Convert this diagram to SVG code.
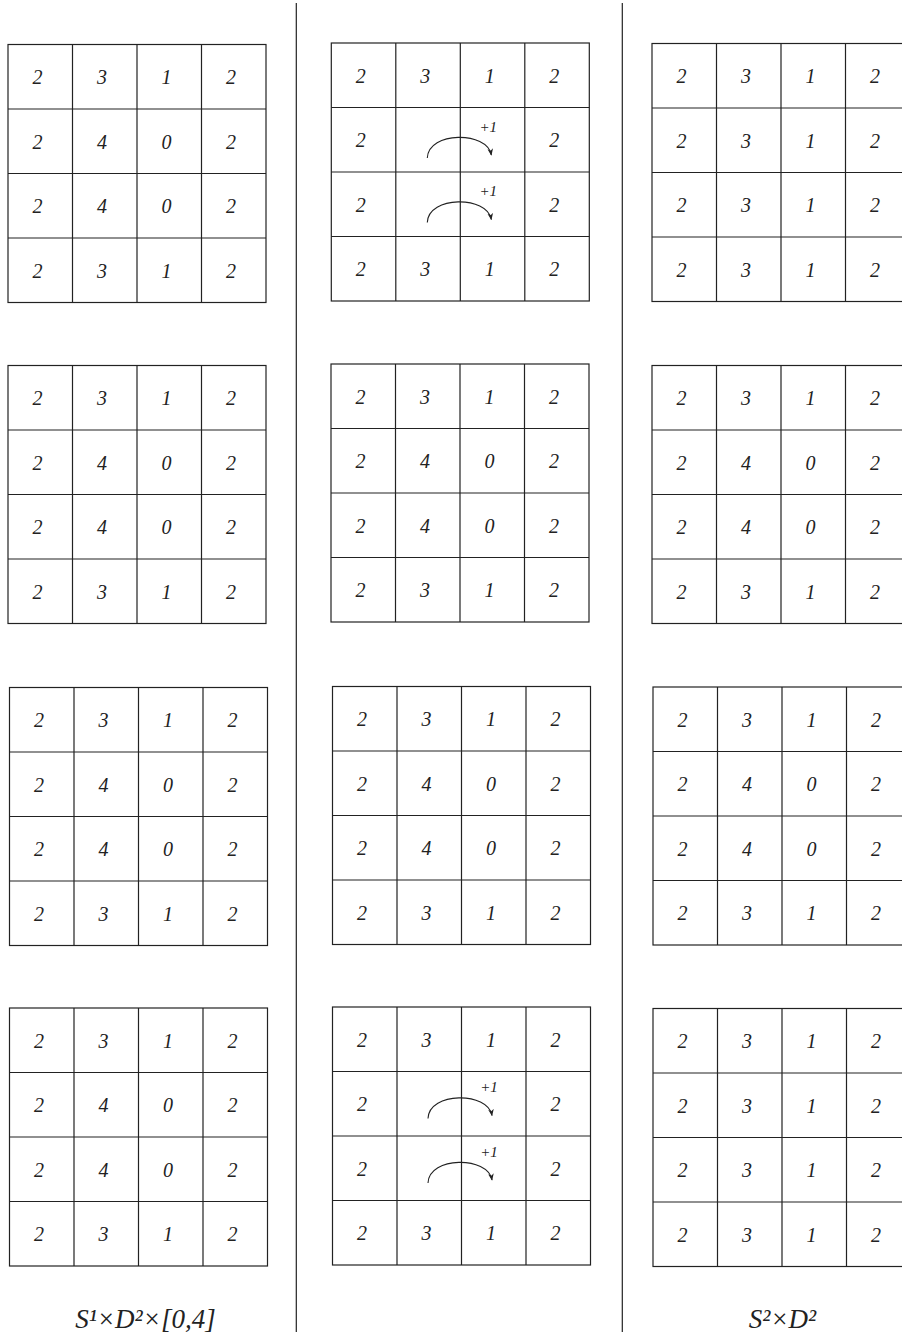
<svg xmlns="http://www.w3.org/2000/svg" width="902" height="1334" viewBox="0 0 902 1334">
<style>
.g{fill:none;stroke:#222;stroke-width:1.2}
text{font-family:"Liberation Serif","Times New Roman","DejaVu Serif",serif;font-style:italic;fill:#222;text-anchor:middle}
.n{font-size:20px}
.p{font-size:15px}
.lb{font-size:27px}
.a{fill:none;stroke:#222;stroke-width:1.1}
.sep{stroke:#222;stroke-width:1.2}
</style>
<defs>
<marker id="ah" viewBox="0 0 10 10" refX="9" refY="5" markerWidth="7" markerHeight="7" markerUnits="userSpaceOnUse" orient="auto">
<path d="M0,1 L10,5 L0,9 L3,5 z" fill="#222"/>
</marker>
</defs>

<g id="separators">
<line class="sep" x1="296.3" y1="3" x2="296.3" y2="1332"/>
<line class="sep" x1="622.3" y1="3" x2="622.3" y2="1332"/>
</g>

<g id="grid-a1" transform="translate(8,44.5)">
<rect class="g" x="0" y="0" width="258" height="258"/>
<path class="g" d="M64.5,0V258M129,0V258M193.5,0V258M0,64.5H258M0,129H258M0,193.5H258"/>
<text class="n" x="29.5" y="39.5">2</text><text class="n" x="94" y="39.5">3</text><text class="n" x="158.5" y="39.5">1</text><text class="n" x="223" y="39.5">2</text>
<text class="n" x="29.5" y="104">2</text><text class="n" x="94" y="104">4</text><text class="n" x="158.5" y="104">0</text><text class="n" x="223" y="104">2</text>
<text class="n" x="29.5" y="168.5">2</text><text class="n" x="94" y="168.5">4</text><text class="n" x="158.5" y="168.5">0</text><text class="n" x="223" y="168.5">2</text>
<text class="n" x="29.5" y="233">2</text><text class="n" x="94" y="233">3</text><text class="n" x="158.5" y="233">1</text><text class="n" x="223" y="233">2</text>
</g>
<g id="grid-a2" transform="translate(8,365.5)">
<rect class="g" x="0" y="0" width="258" height="258"/>
<path class="g" d="M64.5,0V258M129,0V258M193.5,0V258M0,64.5H258M0,129H258M0,193.5H258"/>
<text class="n" x="29.5" y="39.5">2</text><text class="n" x="94" y="39.5">3</text><text class="n" x="158.5" y="39.5">1</text><text class="n" x="223" y="39.5">2</text>
<text class="n" x="29.5" y="104">2</text><text class="n" x="94" y="104">4</text><text class="n" x="158.5" y="104">0</text><text class="n" x="223" y="104">2</text>
<text class="n" x="29.5" y="168.5">2</text><text class="n" x="94" y="168.5">4</text><text class="n" x="158.5" y="168.5">0</text><text class="n" x="223" y="168.5">2</text>
<text class="n" x="29.5" y="233">2</text><text class="n" x="94" y="233">3</text><text class="n" x="158.5" y="233">1</text><text class="n" x="223" y="233">2</text>
</g>
<g id="grid-a3" transform="translate(9.5,687.5)">
<rect class="g" x="0" y="0" width="258" height="258"/>
<path class="g" d="M64.5,0V258M129,0V258M193.5,0V258M0,64.5H258M0,129H258M0,193.5H258"/>
<text class="n" x="29.5" y="39.5">2</text><text class="n" x="94" y="39.5">3</text><text class="n" x="158.5" y="39.5">1</text><text class="n" x="223" y="39.5">2</text>
<text class="n" x="29.5" y="104">2</text><text class="n" x="94" y="104">4</text><text class="n" x="158.5" y="104">0</text><text class="n" x="223" y="104">2</text>
<text class="n" x="29.5" y="168.5">2</text><text class="n" x="94" y="168.5">4</text><text class="n" x="158.5" y="168.5">0</text><text class="n" x="223" y="168.5">2</text>
<text class="n" x="29.5" y="233">2</text><text class="n" x="94" y="233">3</text><text class="n" x="158.5" y="233">1</text><text class="n" x="223" y="233">2</text>
</g>
<g id="grid-a4" transform="translate(9.5,1008)">
<rect class="g" x="0" y="0" width="258" height="258"/>
<path class="g" d="M64.5,0V258M129,0V258M193.5,0V258M0,64.5H258M0,129H258M0,193.5H258"/>
<text class="n" x="29.5" y="39.5">2</text><text class="n" x="94" y="39.5">3</text><text class="n" x="158.5" y="39.5">1</text><text class="n" x="223" y="39.5">2</text>
<text class="n" x="29.5" y="104">2</text><text class="n" x="94" y="104">4</text><text class="n" x="158.5" y="104">0</text><text class="n" x="223" y="104">2</text>
<text class="n" x="29.5" y="168.5">2</text><text class="n" x="94" y="168.5">4</text><text class="n" x="158.5" y="168.5">0</text><text class="n" x="223" y="168.5">2</text>
<text class="n" x="29.5" y="233">2</text><text class="n" x="94" y="233">3</text><text class="n" x="158.5" y="233">1</text><text class="n" x="223" y="233">2</text>
</g>

<g id="grid-b1" transform="translate(331.3,43)">
<rect class="g" x="0" y="0" width="258" height="258"/>
<path class="g" d="M64.5,0V258M129,0V258M193.5,0V258M0,64.5H258M0,129H258M0,193.5H258"/>
<text class="n" x="29.5" y="39.5">2</text><text class="n" x="94" y="39.5">3</text><text class="n" x="158.5" y="39.5">1</text><text class="n" x="223" y="39.5">2</text>
<text class="n" x="29.5" y="104">2</text><text class="n" x="223" y="104">2</text>
<text class="n" x="29.5" y="168.5">2</text><text class="n" x="223" y="168.5">2</text>
<text class="n" x="29.5" y="233">2</text><text class="n" x="94" y="233">3</text><text class="n" x="158.5" y="233">1</text><text class="n" x="223" y="233">2</text>
</g>
<g id="grid-b2" transform="translate(331,364)">
<rect class="g" x="0" y="0" width="258" height="258"/>
<path class="g" d="M64.5,0V258M129,0V258M193.5,0V258M0,64.5H258M0,129H258M0,193.5H258"/>
<text class="n" x="29.5" y="39.5">2</text><text class="n" x="94" y="39.5">3</text><text class="n" x="158.5" y="39.5">1</text><text class="n" x="223" y="39.5">2</text>
<text class="n" x="29.5" y="104">2</text><text class="n" x="94" y="104">4</text><text class="n" x="158.5" y="104">0</text><text class="n" x="223" y="104">2</text>
<text class="n" x="29.5" y="168.5">2</text><text class="n" x="94" y="168.5">4</text><text class="n" x="158.5" y="168.5">0</text><text class="n" x="223" y="168.5">2</text>
<text class="n" x="29.5" y="233">2</text><text class="n" x="94" y="233">3</text><text class="n" x="158.5" y="233">1</text><text class="n" x="223" y="233">2</text>
</g>
<g id="grid-b3" transform="translate(332.5,686.5)">
<rect class="g" x="0" y="0" width="258" height="258"/>
<path class="g" d="M64.5,0V258M129,0V258M193.5,0V258M0,64.5H258M0,129H258M0,193.5H258"/>
<text class="n" x="29.5" y="39.5">2</text><text class="n" x="94" y="39.5">3</text><text class="n" x="158.5" y="39.5">1</text><text class="n" x="223" y="39.5">2</text>
<text class="n" x="29.5" y="104">2</text><text class="n" x="94" y="104">4</text><text class="n" x="158.5" y="104">0</text><text class="n" x="223" y="104">2</text>
<text class="n" x="29.5" y="168.5">2</text><text class="n" x="94" y="168.5">4</text><text class="n" x="158.5" y="168.5">0</text><text class="n" x="223" y="168.5">2</text>
<text class="n" x="29.5" y="233">2</text><text class="n" x="94" y="233">3</text><text class="n" x="158.5" y="233">1</text><text class="n" x="223" y="233">2</text>
</g>
<g id="grid-b4" transform="translate(332.5,1007)">
<rect class="g" x="0" y="0" width="258" height="258"/>
<path class="g" d="M64.5,0V258M129,0V258M193.5,0V258M0,64.5H258M0,129H258M0,193.5H258"/>
<text class="n" x="29.5" y="39.5">2</text><text class="n" x="94" y="39.5">3</text><text class="n" x="158.5" y="39.5">1</text><text class="n" x="223" y="39.5">2</text>
<text class="n" x="29.5" y="104">2</text><text class="n" x="223" y="104">2</text>
<text class="n" x="29.5" y="168.5">2</text><text class="n" x="223" y="168.5">2</text>
<text class="n" x="29.5" y="233">2</text><text class="n" x="94" y="233">3</text><text class="n" x="158.5" y="233">1</text><text class="n" x="223" y="233">2</text>
</g>

<g id="grid-c1" transform="translate(652,43.5)">
<rect class="g" x="0" y="0" width="258" height="258"/>
<path class="g" d="M64.5,0V258M129,0V258M193.5,0V258M0,64.5H258M0,129H258M0,193.5H258"/>
<text class="n" x="29.5" y="39.5">2</text><text class="n" x="94" y="39.5">3</text><text class="n" x="158.5" y="39.5">1</text><text class="n" x="223" y="39.5">2</text>
<text class="n" x="29.5" y="104">2</text><text class="n" x="94" y="104">3</text><text class="n" x="158.5" y="104">1</text><text class="n" x="223" y="104">2</text>
<text class="n" x="29.5" y="168.5">2</text><text class="n" x="94" y="168.5">3</text><text class="n" x="158.5" y="168.5">1</text><text class="n" x="223" y="168.5">2</text>
<text class="n" x="29.5" y="233">2</text><text class="n" x="94" y="233">3</text><text class="n" x="158.5" y="233">1</text><text class="n" x="223" y="233">2</text>
</g>
<g id="grid-c2" transform="translate(652,365.5)">
<rect class="g" x="0" y="0" width="258" height="258"/>
<path class="g" d="M64.5,0V258M129,0V258M193.5,0V258M0,64.5H258M0,129H258M0,193.5H258"/>
<text class="n" x="29.5" y="39.5">2</text><text class="n" x="94" y="39.5">3</text><text class="n" x="158.5" y="39.5">1</text><text class="n" x="223" y="39.5">2</text>
<text class="n" x="29.5" y="104">2</text><text class="n" x="94" y="104">4</text><text class="n" x="158.5" y="104">0</text><text class="n" x="223" y="104">2</text>
<text class="n" x="29.5" y="168.5">2</text><text class="n" x="94" y="168.5">4</text><text class="n" x="158.5" y="168.5">0</text><text class="n" x="223" y="168.5">2</text>
<text class="n" x="29.5" y="233">2</text><text class="n" x="94" y="233">3</text><text class="n" x="158.5" y="233">1</text><text class="n" x="223" y="233">2</text>
</g>
<g id="grid-c3" transform="translate(653,687)">
<rect class="g" x="0" y="0" width="258" height="258"/>
<path class="g" d="M64.5,0V258M129,0V258M193.5,0V258M0,64.5H258M0,129H258M0,193.5H258"/>
<text class="n" x="29.5" y="39.5">2</text><text class="n" x="94" y="39.5">3</text><text class="n" x="158.5" y="39.5">1</text><text class="n" x="223" y="39.5">2</text>
<text class="n" x="29.5" y="104">2</text><text class="n" x="94" y="104">4</text><text class="n" x="158.5" y="104">0</text><text class="n" x="223" y="104">2</text>
<text class="n" x="29.5" y="168.5">2</text><text class="n" x="94" y="168.5">4</text><text class="n" x="158.5" y="168.5">0</text><text class="n" x="223" y="168.5">2</text>
<text class="n" x="29.5" y="233">2</text><text class="n" x="94" y="233">3</text><text class="n" x="158.5" y="233">1</text><text class="n" x="223" y="233">2</text>
</g>
<g id="grid-c4" transform="translate(653,1008.5)">
<rect class="g" x="0" y="0" width="258" height="258"/>
<path class="g" d="M64.5,0V258M129,0V258M193.5,0V258M0,64.5H258M0,129H258M0,193.5H258"/>
<text class="n" x="29.5" y="39.5">2</text><text class="n" x="94" y="39.5">3</text><text class="n" x="158.5" y="39.5">1</text><text class="n" x="223" y="39.5">2</text>
<text class="n" x="29.5" y="104">2</text><text class="n" x="94" y="104">3</text><text class="n" x="158.5" y="104">1</text><text class="n" x="223" y="104">2</text>
<text class="n" x="29.5" y="168.5">2</text><text class="n" x="94" y="168.5">3</text><text class="n" x="158.5" y="168.5">1</text><text class="n" x="223" y="168.5">2</text>
<text class="n" x="29.5" y="233">2</text><text class="n" x="94" y="233">3</text><text class="n" x="158.5" y="233">1</text><text class="n" x="223" y="233">2</text>
</g>

<g id="connectors">
<g transform="translate(331.3,108)">
<path class="a" d="M96,50 C97,23 156,23 160,47" marker-end="url(#ah)"/>
<text class="p" x="157" y="23.5">+1</text>
</g>
<g transform="translate(331.3,172.5)">
<path class="a" d="M96,50 C97,23 156,23 160,47" marker-end="url(#ah)"/>
<text class="p" x="157" y="23.5">+1</text>
</g>
<g transform="translate(332,1068.5)">
<path class="a" d="M96,50 C97,23 156,23 160,47" marker-end="url(#ah)"/>
<text class="p" x="157" y="23.5">+1</text>
</g>
<g transform="translate(332,1133)">
<path class="a" d="M96,50 C97,23 156,23 160,47" marker-end="url(#ah)"/>
<text class="p" x="157" y="23.5">+1</text>
</g>
</g>

<g id="labels">
<text class="lb" x="145.5" y="1327.5">S¹×D²×[0,4]</text>
<text class="lb" x="782.5" y="1327.5">S²×D²</text>
</g>
</svg>
